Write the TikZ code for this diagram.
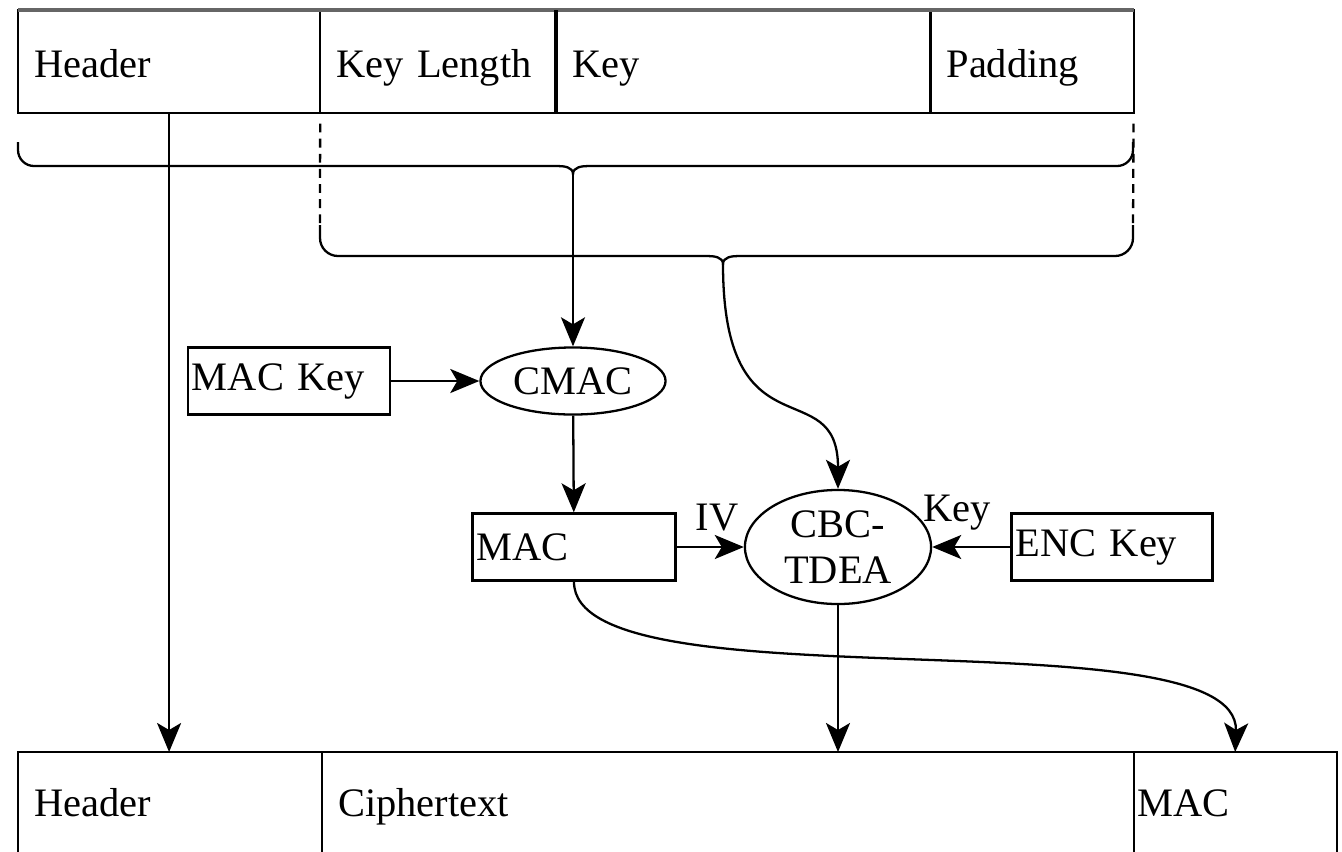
\documentclass[tikz,border=0pt]{standalone}
\usepackage{fontspec}
\setmainfont{Liberation Serif}
\usetikzlibrary{positioning,arrows.meta,shapes.geometric}

\begin{document}
\begin{tikzpicture}[x=0.01cm,y=-0.01cm,>={Stealth[length=2.9mm,width=2.4mm,inset=0.7mm]},
  line width=0.65pt,
  every node/.style={font=\fontsize{11.5}{13}\selectfont},
  cell/.style={draw,anchor=north west,outer sep=0pt,minimum height=1.03cm,inner xsep=1.6mm,
    text width=#1,text height=2.7ex,text depth=.7ex,align=left},
  box/.style={draw,minimum height=0.67cm,inner xsep=0.4mm,text width=#1,align=left},
  oval/.style={draw,ellipse,inner sep=0pt,align=center},
  guide/.style={dash pattern=on 2.5pt off 1.8pt}]
\clip (0,0) rectangle (1342,851);
% key block on top
\node[cell=2.70cm] (hdr) at (18,10) {Header};
\node[cell=2.04cm] (klen) at (hdr.north east) {Key Length};
\node[cell=3.42cm] (key) at (klen.north east) {Key};
\node[cell=1.71cm] (pad) at (key.north east) {Padding};
\draw[line width=1.3pt,black!60] (hdr.north west) -- (pad.north east);
\draw[line width=1.1pt] (key.north west) -- (key.south west);
% braces
\draw (18,142) -- (18,150) to[out=-90,in=180] (34,166) -- (557,166) to[out=0,in=90] (573,174) coordinate (tipA)
  to[out=90,in=180] (589,166) -- (1117,166) to[out=0,in=-90] (1133,150) -- (1133,142);
\draw (320,225) coordinate (b2l) -- (320,238) to[out=-90,in=180] (338,256) -- (707,256) to[out=0,in=90] (723,264) coordinate (tipB)
  to[out=90,in=180] (739,256) -- (1115,256) to[out=0,in=-90] (1133,238) -- (1133,225) coordinate (b2r);
\draw[guide,shorten <=3pt] (klen.south west) -- (b2l);
\draw[guide,shorten <=3pt] (pad.south east) -- (b2r);
% MAC and encryption
\node[box=1.94cm] (mackey) at (289,381) {MAC Key};
\node[oval,minimum width=1.85cm,minimum height=0.67cm] (cmac) at (573,381) {CMAC};
\node[box=1.95cm] (mac) at (574,547) {MAC};
\node[oval,minimum width=1.86cm,minimum height=1.14cm] (cbc) at (838,547) {CBC-\\TDEA};
\node[box=1.93cm] (enc) at (1112,547) {ENC Key};
% output block
\node[cell=2.72cm,minimum height=1.04cm,text height=2.2ex] (bhdr) at (18,752) {Header};
\node[cell=7.79cm,minimum height=1.04cm,text height=2.2ex] (ct) at (bhdr.north east) {Ciphertext};
\node[cell=1.95cm,minimum height=1.04cm,text height=2.2ex,inner xsep=0.4mm] (bmac) at (ct.north east) {MAC};
% arrows
\draw[->] (hdr.south) -- (hdr.south |- bhdr.north);
\draw[->] (tipA) -- (cmac.north);
\draw[->] (tipB) .. controls (723,460) and (838,370) .. (cbc.north);
\draw[->] (mackey) -- (cmac);
\draw[->] (cmac) -- (mac);
\draw[->] (mac) -- node[above=1pt,xshift=2pt] {IV} (cbc);
\draw[->] (enc) -- node[above=1pt,xshift=-4pt] {Key} (cbc);
\draw[->] (cbc) -- (cbc |- ct.north);
\draw[->] (mac.south) .. controls (573,710) and (1240,610) .. (bmac.north);
\end{tikzpicture}
\end{document}
